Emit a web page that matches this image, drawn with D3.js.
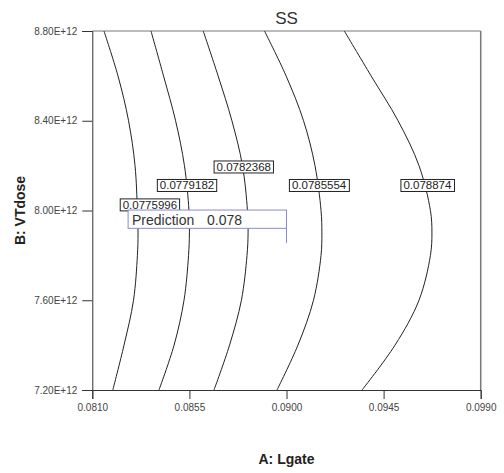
<!DOCTYPE html>
<html>
<head>
<meta charset="utf-8">
<script src="https://cdn.jsdelivr.net/npm/d3@7"></script>
<style>
  html, body { margin: 0; padding: 0; background: #fff; }
  svg { display: block; font-family: "Liberation Sans", Arial, sans-serif; }
</style>
</head>
<body>
<svg id="chart" width="504" height="473"></svg>
<script>
// ---- data ----
const chartTitle = "SS";
const xTitle = "A: Lgate";
const yTitle = "B: VTdose";
const xTicks = [0.0810, 0.0855, 0.0900, 0.0945, 0.0990];
const yTicks = [7.2e12, 7.6e12, 8.0e12, 8.4e12, 8.8e12];

// B values at which each contour's A value was read
const bLevels = [8.8e12, 8.6e12, 8.4e12, 8.2e12, 8.0e12, 7.9e12, 7.8e12, 7.6e12, 7.4e12, 7.2e12];

const contourLabels = ["0.0775996", "0.0779182", "0.0782368", "0.0785554", "0.078874"];
const contour1A = [0.08154, 0.08219, 0.08268, 0.08298, 0.08309, 0.08312, 0.08309, 0.08291, 0.08247, 0.08195];
const contour2A = [0.08372, 0.08430, 0.08486, 0.08527, 0.08548, 0.08550, 0.08546, 0.08525, 0.08479, 0.08409];
const contour3A = [0.08614, 0.08683, 0.08747, 0.08796, 0.08819, 0.08822, 0.08817, 0.08791, 0.08736, 0.08664];
const contour4A = [0.08898, 0.08998, 0.09079, 0.09132, 0.09160, 0.09164, 0.09160, 0.09125, 0.09053, 0.08956];
const contour5A = [0.09268, 0.09392, 0.09517, 0.09614, 0.09667, 0.09674, 0.09667, 0.09614, 0.09503, 0.09350];
const contoursA = [contour1A, contour2A, contour3A, contour4A, contour5A];

// label centres (A, B)
const labelA = [0.08367, 0.08539, 0.08802, 0.09151, 0.09653];
const labelB = [8.025e12, 8.1115e12, 8.194e12, 8.1115e12, 8.1115e12];

// prediction flag
const predictionText = "Prediction";
const predictionValue = "0.078";
const predictionA = 0.0900;
const predictionB = 7.855e12;

// ---- drawing ----
const svg = d3.select("#chart");
const x = d3.scaleLinear().domain([0.081, 0.099]).range([92.3, 480.7]);
const y = d3.scaleLinear().domain([7.2e12, 8.8e12]).range([390, 31]);

// frame (top & right)
svg.append("line").attr("x1", x(0.081)).attr("x2", x(0.099)).attr("y1", y(8.8e12)).attr("y2", y(8.8e12))
  .attr("stroke", "#777").attr("stroke-width", 1);
svg.append("line").attr("x1", x(0.099)).attr("x2", x(0.099)).attr("y1", y(8.8e12)).attr("y2", y(7.2e12))
  .attr("stroke", "#777").attr("stroke-width", 1.5);

// axes
const xAxis = d3.axisBottom(x).tickValues(xTicks).tickFormat(d3.format(".4f")).tickSize(9).tickPadding(5);
const yAxis = d3.axisLeft(y).tickValues(yTicks).tickFormat(v => (v / 1e12).toFixed(2) + "E+12").tickSize(10).tickPadding(5);

const gx = svg.append("g").attr("transform", `translate(0,${y(7.2e12)})`).call(xAxis);
const gy = svg.append("g").attr("transform", `translate(${x(0.081)},0)`).call(yAxis);
[gx, gy].forEach(g => {
  g.select(".domain").attr("stroke", "#333");
  g.selectAll(".tick line").attr("stroke", "#333");
  g.selectAll(".tick text").attr("fill", "#444").style("font-size", "10px")
    .style("font-family", "'Liberation Sans', Arial, sans-serif");
});

// contours
const line = d3.line().x(d => x(d[0])).y(d => y(d[1])).curve(d3.curveCatmullRom.alpha(0.5));
contoursA.forEach(arr => {
  const pts = arr.map((a, i) => [a, bLevels[i]]);
  svg.append("path").attr("d", line(pts)).attr("fill", "none")
    .attr("stroke", "#222").attr("stroke-width", 1);
});

// contour labels
contourLabels.forEach((lab, i) => {
  const cx = x(labelA[i]), cy = y(labelB[i]);
  const g = svg.append("g");
  const t = g.append("text").attr("x", cx).attr("y", cy + 4).attr("text-anchor", "middle")
    .style("font-size", "11.5px").attr("fill", "#222").text(lab);
  const bb = t.node().getBBox();
  g.insert("rect", "text").attr("x", bb.x - 2.5).attr("y", cy - 6).attr("width", bb.width + 5).attr("height", 12)
    .attr("fill", "#fff").attr("stroke", "#222").attr("stroke-width", 1);
});

// prediction flag
const px = x(predictionA), py = y(predictionB);
svg.append("rect").attr("x", px - 158.4).attr("y", py - 33).attr("width", 158.4).attr("height", 18.3)
  .attr("fill", "#fff").attr("stroke", "#8a8ad2").attr("stroke-width", 1);
svg.append("line").attr("x1", px).attr("x2", px).attr("y1", py - 14.7).attr("y2", py)
  .attr("stroke", "#8a8ad2").attr("stroke-width", 1);
svg.append("text").attr("x", px - 154.5).attr("y", py - 18.5).style("font-size", "14px").attr("fill", "#333").text(predictionText);
svg.append("text").attr("x", px - 79.5).attr("y", py - 18.5).style("font-size", "14px").attr("fill", "#333").text(predictionValue);

// titles
svg.append("text").attr("x", (x(0.081) + x(0.099)) / 2).attr("y", 24).attr("text-anchor", "middle")
  .style("font-size", "17px").attr("fill", "#333").text(chartTitle);
svg.append("text").attr("x", (x(0.081) + x(0.099)) / 2).attr("y", 464).attr("text-anchor", "middle")
  .style("font-size", "14px").style("font-weight", "bold").attr("fill", "#222").text(xTitle);
svg.append("text").attr("transform", `translate(25,${(y(7.2e12) + y(8.8e12)) / 2})rotate(-90)`)
  .attr("text-anchor", "middle").style("font-size", "14px").style("font-weight", "bold").attr("fill", "#222").text(yTitle);
</script>
</body>
</html>
